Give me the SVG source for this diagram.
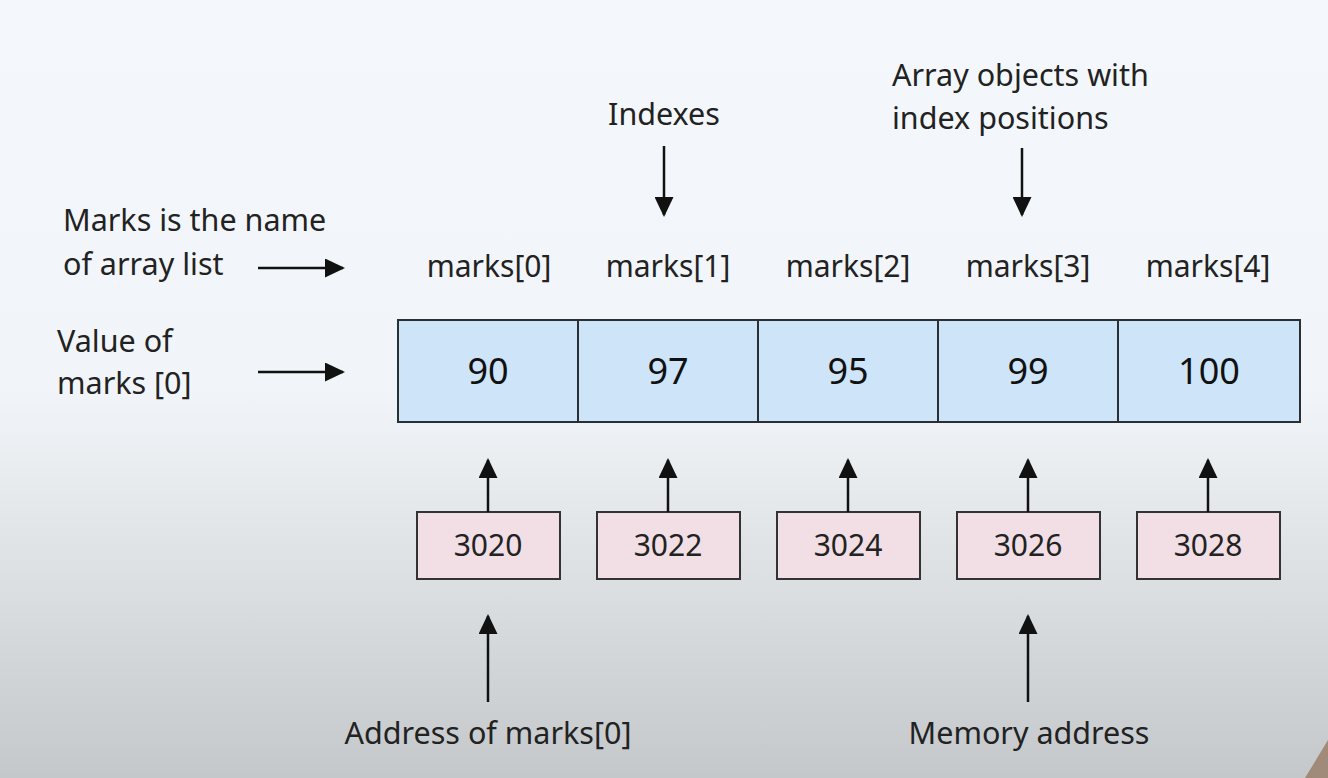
<svg xmlns="http://www.w3.org/2000/svg" width="1328" height="778" viewBox="0 0 1328 778">
<defs>
<linearGradient id="bg" x1="0" y1="0" x2="0" y2="1">
<stop offset="0" stop-color="#f4f8fd"/>
<stop offset="0.5" stop-color="#f1f5f9"/>
<stop offset="0.62" stop-color="#e8ebee"/>
<stop offset="1" stop-color="#c4c8cb"/>
</linearGradient>
<marker id="ah" viewBox="0 0 20 20" refX="18" refY="10" markerWidth="20" markerHeight="19" markerUnits="userSpaceOnUse" orient="auto" preserveAspectRatio="none">
<path d="M0,0 L20,10 L0,20 z" fill="#111"/>
</marker>
<style>
.lbl{font-family:"Noto Sans","Open Sans",sans-serif;font-size:30.5px;fill:#222}
.idx{font-family:"Noto Sans","Open Sans",sans-serif;font-size:30px;fill:#222;text-anchor:middle}
.val{font-family:"Noto Sans","Open Sans",sans-serif;font-size:36px;fill:#111;text-anchor:middle}
.adr{font-family:"Noto Sans","Open Sans",sans-serif;font-size:30px;fill:#222;text-anchor:middle}
.cell{fill:#cde4f9;stroke:#2a2f33;stroke-width:2}
.addr{fill:#f1dfe5;stroke:#333;stroke-width:2}
.conn{stroke:#111;stroke-width:2.5;fill:none}
</style>
</defs>
<rect x="0" y="0" width="1328" height="778" fill="url(#bg)"/>
<polygon points="1328,740 1328,778 1305,778" fill="#a08a7a"/>

<g id="annotations">
<text class="lbl" x="63" y="231">Marks is the name</text>
<text class="lbl" x="63" y="275">of array list</text>
<text class="lbl" x="57" y="352">Value of</text>
<text class="lbl" x="57" y="394">marks [0]</text>
<text class="lbl" x="664" y="125" text-anchor="middle">Indexes</text>
<text class="lbl" x="892" y="86">Array objects with</text>
<text class="lbl" x="892" y="129">index positions</text>
<text class="lbl" x="488" y="744" text-anchor="middle">Address of marks[0]</text>
<text class="lbl" x="1029" y="744" text-anchor="middle">Memory address</text>
</g>

<g id="indexes">
<text class="idx" x="489" y="277">marks[0]</text>
<text class="idx" x="668" y="277">marks[1]</text>
<text class="idx" x="848" y="277">marks[2]</text>
<text class="idx" x="1028" y="277">marks[3]</text>
<text class="idx" x="1208" y="277">marks[4]</text>
</g>

<g id="array">
<g id="cell0"><rect class="cell" x="398" y="320" width="180" height="102"/><text class="val" x="488" y="384">90</text></g>
<g id="cell1"><rect class="cell" x="578" y="320" width="180" height="102"/><text class="val" x="668" y="384">97</text></g>
<g id="cell2"><rect class="cell" x="758" y="320" width="180" height="102"/><text class="val" x="848" y="384">95</text></g>
<g id="cell3"><rect class="cell" x="938" y="320" width="180" height="102"/><text class="val" x="1028" y="384">99</text></g>
<g id="cell4"><rect class="cell" x="1118" y="320" width="182" height="102"/><text class="val" x="1209" y="384">100</text></g>
</g>

<g id="addresses">
<g id="addr0"><rect class="addr" x="417" y="512" width="143" height="67"/><text class="adr" x="488" y="556">3020</text></g>
<g id="addr1"><rect class="addr" x="597" y="512" width="143" height="67"/><text class="adr" x="668" y="556">3022</text></g>
<g id="addr2"><rect class="addr" x="777" y="512" width="143" height="67"/><text class="adr" x="848" y="556">3024</text></g>
<g id="addr3"><rect class="addr" x="957" y="512" width="143" height="67"/><text class="adr" x="1028" y="556">3026</text></g>
<g id="addr4"><rect class="addr" x="1137" y="512" width="143" height="67"/><text class="adr" x="1208" y="556">3028</text></g>
</g>

<g id="connectors">
<line class="conn" x1="258" y1="268" x2="343" y2="268" marker-end="url(#ah)"/>
<line class="conn" x1="258" y1="372" x2="343" y2="372" marker-end="url(#ah)"/>
<line class="conn" x1="664" y1="146" x2="664" y2="215" marker-end="url(#ah)"/>
<line class="conn" x1="1022" y1="148" x2="1022" y2="215" marker-end="url(#ah)"/>
<line class="conn" x1="488" y1="512" x2="488" y2="460" marker-end="url(#ah)"/>
<line class="conn" x1="668" y1="512" x2="668" y2="460" marker-end="url(#ah)"/>
<line class="conn" x1="848" y1="512" x2="848" y2="460" marker-end="url(#ah)"/>
<line class="conn" x1="1028" y1="512" x2="1028" y2="460" marker-end="url(#ah)"/>
<line class="conn" x1="1208" y1="512" x2="1208" y2="460" marker-end="url(#ah)"/>
<line class="conn" x1="488" y1="702" x2="488" y2="616" marker-end="url(#ah)"/>
<line class="conn" x1="1028" y1="702" x2="1028" y2="616" marker-end="url(#ah)"/>
</g>
</svg>
